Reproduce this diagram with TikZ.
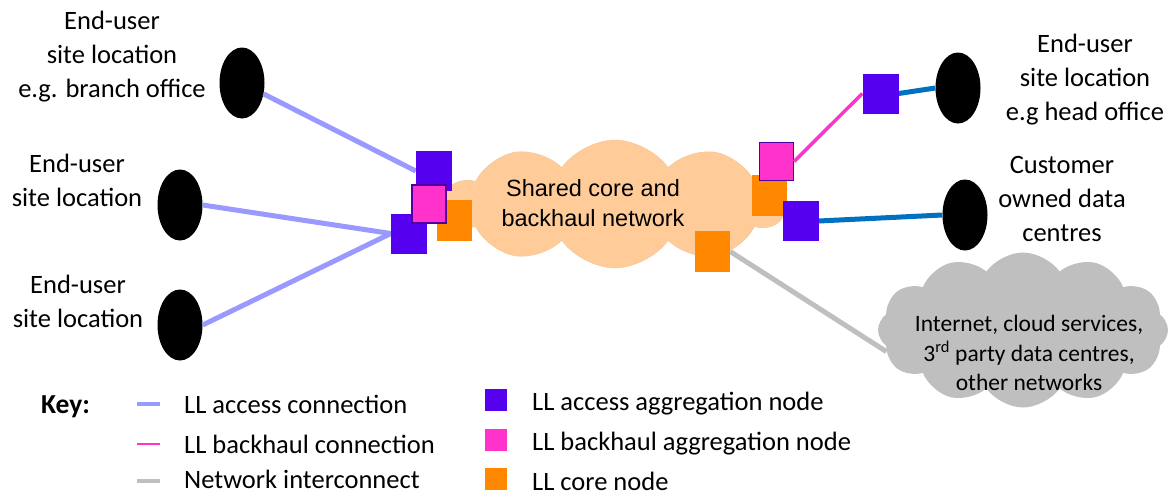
\documentclass[tikz,border=0pt]{standalone}
\usepackage{fontspec}
\setmainfont{Carlito}
\newfontfamily\arialfont{Liberation Sans}
\usetikzlibrary{shapes.symbols,shapes.geometric}
\definecolor{accblue}{RGB}{85,0,238}
\definecolor{bhpink}{RGB}{255,51,204}
\definecolor{corange}{RGB}{255,136,0}
\definecolor{acline}{RGB}{153,153,255}
\definecolor{peach}{RGB}{255,204,153}
\definecolor{netgray}{RGB}{191,191,191}
\definecolor{custblue}{RGB}{0,112,192}
\definecolor{pinkedge}{RGB}{80,0,160}
\tikzset{
  site/.style={ellipse, fill=black, minimum width=45pt, minimum height=71pt, inner sep=0pt},
  lbl/.style={align=center, font=\fontsize{26.5}{34}\selectfont, inner sep=0pt},
  keytxt/.style={anchor=base west, font=\fontsize{26.5}{30}\selectfont, inner sep=0pt},
  keybox/.style={minimum width=22pt, minimum height=22pt, inner sep=0pt},
  accnode/.style={fill=accblue, minimum width=36pt, minimum height=40pt, inner sep=0pt},
  bhnode/.style={fill=bhpink, draw=pinkedge, line width=1.2pt, minimum width=34pt, minimum height=38pt, inner sep=0pt},
  corenode/.style={fill=corange, minimum width=35pt, minimum height=41pt, inner sep=0pt},
  accline/.style={draw=acline, line width=5pt},
  bhline/.style={draw=bhpink, line width=3.5pt},
  custline/.style={draw=custblue, line width=5pt},
  netline/.style={draw=netgray, line width=5pt},
}
\begin{document}
\begin{tikzpicture}[x=1pt,y=-1pt]
\useasboundingbox (0,0) rectangle (1170,496);

% shared core cloud and the external networks cloud
\node[cloud, cloud puffs=10, cloud puff arc=110, aspect=2.6, fill=peach, draw=peach!90!gray, line width=0.4pt,
      minimum width=340pt, minimum height=128pt, inner sep=0pt] (core) at (615,204) {};
\node[align=center, font=\arialfont\fontsize{23.5}{30}\selectfont, inner sep=0pt] (coretxt) at (593,203) {Shared core and\\backhaul network};
\node[cloud, cloud puffs=12, cloud puff arc=110, aspect=1.9, fill=netgray,
      minimum width=290pt, minimum height=155pt, inner sep=0pt] (inet) at (1023,330) {};
\node[align=center, font=\fontsize{23.5}{29.5}\selectfont, inner sep=0pt] (inettxt) at (1029,353)
  {Internet, cloud services,\\3\textsuperscript{rd} party data centres,\\other networks};

% end-user sites
\node[site] (s1) at (242,83) {};
\node[site] (s2) at (180,205) {};
\node[site] (s3) at (180,325) {};
\node[site] (s4) at (958,88) {};
\node[site] (s5) at (965,215) {};

\node[lbl] (t1) at (112,57) {End-user\\site location\\e.g. branch office};
\node[lbl] (t2) at (77,180) {End-user\\site location};
\node[lbl] (t3) at (78,301) {End-user\\site location};
\node[lbl] (t4) at (1085,80) {End-user\\site location\\e.g head office};
\node[lbl] (t5) at (1062,199) {Customer\\owned data\\centres};

% aggregation and core nodes
\node[accnode] (la1) at (434,171) {};
\node[corenode] (lc) at (454.5,220.5) {};
\node[accnode] (la2) at (409,233.5) {};
\node[bhnode] (lb) at (429,204) {};

\node[corenode] (rc) at (769,195.5) {};
\node[bhnode] (rb) at (776.5,161.5) {};
\node[accnode] (ra) at (800.5,221) {};
\node[corenode] (rc2) at (712.5,251.5) {};
\node[accnode] (rt) at (880.5,93.5) {};

% connections
\path[accline] (s1) -- (la1.west);
\path[accline] (s2.east) -- (la2.west);
\path[accline] (s3.east) -- (la2.west);
\path[bhline] (rb.east) -- (rt.west);
\path[custline] (rt.east) -- (s4.west);
\path[custline] (ra.east) -- (s5.west);
\path[netline] (rc2.east) -- (inet.189);

% redraw nodes over the line ends
\node[accnode] at (la1) {};
\node[accnode] at (la2) {};
\node[bhnode] at (lb) {};
\node[accnode] at (ra) {};
\node[accnode] at (rt) {};
\node[corenode] at (rc2) {};

% key
\node[anchor=base west, font=\bfseries\fontsize{27.5}{30}\selectfont, inner sep=0pt] (key) at (41,413) {Key:};
\coordinate (k1a) at (137,404); \coordinate (k1b) at (160,404);
\coordinate (k2a) at (137,444); \coordinate (k2b) at (160,444);
\coordinate (k3a) at (137,481); \coordinate (k3b) at (160,481);
\path[draw=acline, line width=4pt] (k1a) -- (k1b);
\path[draw=bhpink, line width=2.5pt] (k2a) -- (k2b);
\path[draw=netgray, line width=4pt] (k3a) -- (k3b);
\node[keytxt] (kt1) at (184,413) {LL access connection};
\node[keytxt] (kt2) at (184,453) {LL backhaul connection};
\node[keytxt] (kt3) at (184,488) {Network interconnect};
\node[keybox, fill=accblue] (kn1) at (496,400) {};
\node[keybox, fill=bhpink] (kn2) at (496,440) {};
\node[keybox, fill=corange] (kn3) at (496,479) {};
\node[keytxt] (kt4) at (532,410) {LL access aggregation node};
\node[keytxt] (kt5) at (532,450) {LL backhaul aggregation node};
\node[keytxt] (kt6) at (532,490) {LL core node};
\end{tikzpicture}
\end{document}
